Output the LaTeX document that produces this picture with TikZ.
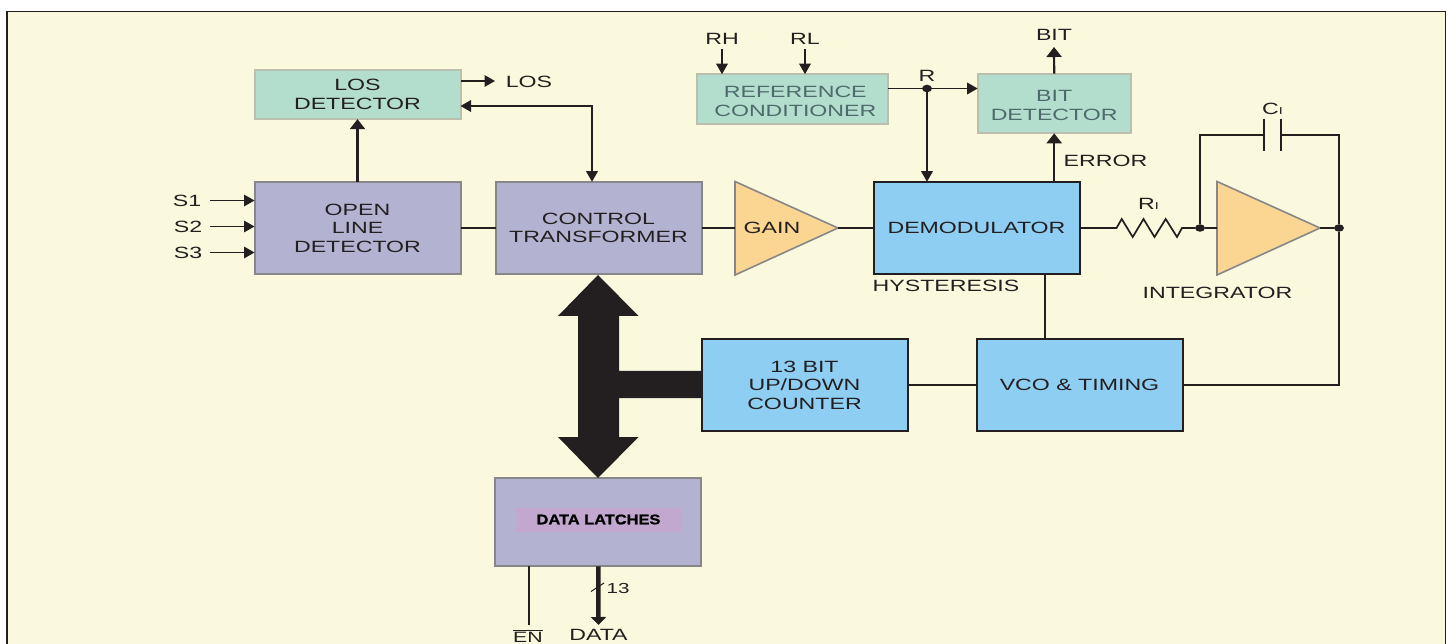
\documentclass[tikz,border=0pt]{standalone}
\usepackage{fontspec}
\setmainfont[FakeStretch=1.42]{Liberation Sans}
\newfontfamily\latchfont[FakeStretch=1.17,FakeBold=1.2]{Liberation Sans Bold}
\usetikzlibrary{arrows.meta,calc,shapes.geometric}
\definecolor{paper}{HTML}{FBF9DD}
\definecolor{ink}{HTML}{231F20}
\definecolor{mint}{HTML}{B3DDCD}
\definecolor{mintline}{HTML}{BDBFAE}
\definecolor{lilac}{HTML}{B3B3D1}
\definecolor{lilacline}{HTML}{87878A}
\definecolor{sky}{HTML}{8ECEF3}
\definecolor{amber}{HTML}{FBD592}
\definecolor{pinkband}{HTML}{C2A8CE}
\definecolor{greytext}{HTML}{4F6A6C}
\tikzset{
  x=1pt,y=-1pt,
  every node/.style={inner sep=0pt,outer sep=0pt,text=ink,align=center,
    font=\fontsize{16.3}{18.6}\selectfont},
  every label/.style={inner sep=0pt,outer sep=0pt,align=center,
    font=\fontsize{16.3}{19}\selectfont},
  blockbox/.style={draw,line width=2pt,minimum width=206pt,minimum height=92.5pt},
  mintbox/.style={blockbox,fill=mint,draw=mintline},
  lilacbox/.style={blockbox,fill=lilac,draw=lilacline},
  skybox/.style={blockbox,fill=sky,draw=ink},
  amp/.style={fill=amber,draw=lilacline,line width=1.6pt,line join=miter},
  wire/.style={draw=ink,line width=1.7pt},
  sig/.style={wire,-{Triangle[length=10.5pt,width=11.5pt]}},
  heavy/.style={draw=ink,line width=2.2pt,-{Triangle[length=10pt,width=15pt]}},
  sigboth/.style={wire,{Triangle[length=10.5pt,width=11.5pt]}-{Triangle[length=10.5pt,width=11.5pt]}},
  dot/.style={ellipse,fill=ink,minimum width=10pt,minimum height=7.5pt}
}
\begin{document}
\begin{tikzpicture}
\useasboundingbox (0,0) rectangle (1449,644);
\fill[white] (0,0) rectangle (1449,644);
\fill[paper] (7,11.5) rectangle (1445.5,644);
\draw[ink,line width=1.5pt] (7,644) -- (7,11.5) -- (1445.5,11.5) -- (1445.5,644);

% blocks
\node[mintbox,minimum height=49.5pt] (los) at (357.5,94.4) {LOS\\DETECTOR};
\node[lilacbox] (open) at (357.5,228) {OPEN\\LINE\\DETECTOR};
\node[lilacbox] (ctrl) at (598.5,228) {CONTROL\\TRANSFORMER};
\node[skybox] (demod) at (976.5,228) {DEMODULATOR};
\node[mintbox,minimum width=191pt,minimum height=50pt,
  label={[text=greytext,xshift=3pt,yshift=-1.8pt]center:REFERENCE\\CONDITIONER}] (ref) at (792.3,99.2) {};
\node[mintbox,minimum width=153pt,minimum height=59.6pt,
  label={[text=greytext,yshift=-1.5pt]center:BIT\\DETECTOR}] (bit) at (1054.2,103.5) {};
\node[skybox] (counter) at (804.5,385) {13 BIT\\UP/DOWN\\COUNTER};
\node[skybox] (vco) at (1079.5,385) {VCO \& TIMING};
\node[lilacbox,minimum height=88pt] (latch) at (598.3,522.3) {};
\node[fill=pinkband,minimum width=165pt,minimum height=24pt,text=black,
      font=\latchfont\fontsize{14}{16}\selectfont] (latchtext) at (598.5,519.5) {DATA LATCHES};

% amplifiers
\coordinate (gainA) at (735,181.5);
\coordinate (gainB) at (735,275);
\coordinate (gainC) at (838,228);
\coordinate (gainW) at (735,228);
\coordinate (intA) at (1217,181.5);
\coordinate (intB) at (1217,275);
\coordinate (intC) at (1320,228);
\coordinate (intW) at (1217,228);
\fill[amp,draw=lilacline] (gainA) -- (gainC) -- (gainB) -- cycle;
\fill[amp,draw=lilacline] (intA) -- (intC) -- (intB) -- cycle;
\node (gain) at (772,228) {GAIN};

% bus
\fill[ink] (598,275) -- (638.5,316) -- (619,316) -- (619,371) -- (701,371) -- (701,398)
  -- (619,398) -- (619,437) -- (638.5,437) -- (598,478) -- (558,437) -- (578,437)
  -- (578,316) -- (558,316) -- cycle;

% labels
\node (s1) at (187,200.5) {S1};
\node (s2) at (188,226.5) {S2};
\node (s3) at (188,252.5) {S3};
\node (loslbl) at (529,82) {LOS};
\node (rh) at (722,39) {RH};
\node (rl) at (805,39) {RL};
\node (rlbl) at (927,76) {R};
\node (bitlbl) at (1054,34.5) {BIT};
\node (err) at (1105.5,161) {ERROR};
\node (hyst) at (946,286) {HYSTERESIS};
\node (integ) at (1217.5,292.5) {INTEGRATOR};
\node (rilbl) at (1148.5,204) {R{\fontsize{10}{10}\selectfont I}};
\node (cilbl) at (1272.5,109) {C{\fontsize{10}{10}\selectfont I}};
\node (datalbl) at (598.5,634.5) {DATA};
\node (n13) at (618,588.5) {\fontsize{14.5}{16}\selectfont 13};
\node (en) at (528,637.5) {\fontsize{15}{16}\selectfont EN};
\draw[ink,line width=1.2pt] ($(en.north west)+(0,-2)$) -- ($(en.north east)+(0,-2)$);

% free ends and junctions
\coordinate (s1a) at (210,200.5);
\coordinate (s2a) at (210,226.5);
\coordinate (s3a) at (210,252.5);
\coordinate (losout) at (461,81);
\coordinate (losend) at (495,81);
\coordinate (rhA) at (722,49);
\coordinate (rlA) at (805,49);
\coordinate (bitend) at (1054,47);
\node[dot] (rdot) at (927,88.5) {};
\node[dot] (idot) at (1200,228) {};
\node[dot] (odot) at (1339,228) {};
\coordinate (capL) at (1264,135);
\coordinate (capR) at (1281,135);
\coordinate (resA) at (1116.5,228);
\coordinate (resB) at (1182,228);
\coordinate (enend) at (529,625);
\coordinate (dataend) at (598.5,625);
\coordinate (losctl) at (592,106);

% connectors
\draw[sig] (s1a) -- (open.west |- s1a);
\draw[sig] (s2a) -- (open.west |- s2a);
\draw[sig] (s3a) -- (open.west |- s3a);
\draw[heavy] (open.north) -- (los.south);
\draw[sig] (losout) -- (losend);
\draw[sigboth] (los.east |- losctl) -- (losctl) -- (losctl |- ctrl.north);
\draw[wire] (open.east) -- (ctrl.west);
\draw[wire] (ctrl.east) -- (gainW);
\draw[wire] (gainC) -- (demod.west);
\draw[sig] (rhA) -- (rhA |- ref.north);
\draw[sig] (rlA) -- (rlA |- ref.north);
\draw[sig] (ref.east |- rdot) -- (bit.west |- rdot);
\draw[sig] (rdot) -- (rdot |- demod.north);
\draw[heavy] (bit.north) -- (bitend);
\draw[heavy] (bit.south |- demod.north) -- (bit.south);
\draw[wire,line join=miter] (demod.east) -- (resA)
  -- (1121.7,219) -- (1132.7,237) -- (1143.5,219) -- (1154.5,237)
  -- (1165.7,219) -- (1177,237) -- (resB) -- (idot) -- (intW);
\draw[wire,line width=2pt] (idot) -- (idot |- capL) -- (capL);
\draw[wire,line width=2pt] (capL |- 0,119) -- (capL |- 0,151);
\draw[wire,line width=2pt] (capR |- 0,119) -- (capR |- 0,151);
\draw[wire,line width=2pt] (capR) -- (odot |- capR) -- (odot);
\draw[wire] (intC) -- (odot);
\draw[wire,line width=2pt] (odot) -- (odot |- vco.east) -- (vco.east);
\draw[wire] (counter.east) -- (vco.west);
\draw[wire] (1045,275) -- (1045,338);
\draw[wire,line width=2pt] (latch.south -| enend) -- (enend);
\draw[draw=ink,line width=4.5pt,-{Triangle[length=8pt,width=15pt]}] (latch.south) -- (dataend);
\draw[wire,line width=1pt] (591,591.5) -- (604,583);
\end{tikzpicture}
\end{document}
